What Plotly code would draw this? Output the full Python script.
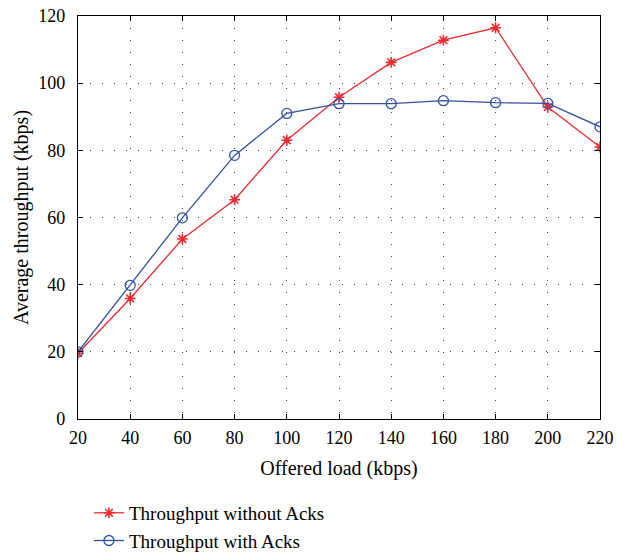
import plotly.graph_objects as go

offered_load = [20, 40, 60, 80, 100, 120, 140, 160, 180, 200, 220]
throughput_no_acks = [19.6, 35.9, 53.6, 65.3, 83.0, 95.8, 106.2, 112.8, 116.5, 92.9, 81.0]
throughput_acks = [20.0, 39.8, 59.9, 78.5, 91.0, 93.9, 93.9, 94.8, 94.2, 94.0, 87.0]
x_ticks = [20, 40, 60, 80, 100, 120, 140, 160, 180, 200, 220]
y_ticks = [0, 20, 40, 60, 80, 100, 120]

RED = "#ee2a2f"
BLUE = "#3450a6"
FONT = "Liberation Serif, DejaVu Serif, serif"

fig = go.Figure()
fig.add_trace(go.Scatter(
    x=offered_load, y=throughput_no_acks, mode="lines+markers",
    name="Throughput without Acks",
    line=dict(color=RED, width=1.3),
    marker=dict(symbol="asterisk-open", size=9, color=RED, line=dict(color=RED, width=1.6)),
))
fig.add_trace(go.Scatter(
    x=offered_load, y=throughput_acks, mode="lines+markers",
    name="Throughput with Acks",
    line=dict(color=BLUE, width=1.3),
    marker=dict(symbol="circle-open", size=10, color=BLUE, line=dict(color=BLUE, width=1.3)),
))

axis_common = dict(
    showline=True, linecolor="black", linewidth=1.2, mirror="ticks",
    ticks="inside", ticklen=5, tickcolor="black",
    showgrid=True, gridcolor="#444444", gridwidth=1, griddash="1px,11px",
    zeroline=False,
    tickfont=dict(family=FONT, size=18, color="black"),
)

fig.update_xaxes(
    range=[20, 220], tickvals=x_ticks, ticklabelstandoff=2,
    title=dict(text="Offered load (kbps)", font=dict(family=FONT, size=20, color="black"), standoff=14),
    **axis_common,
)
fig.update_yaxes(
    range=[0, 120], tickvals=y_ticks, ticklabelstandoff=8,
    title=dict(text="Average throughput (kbps)", font=dict(family=FONT, size=20, color="black"), standoff=4),
    **axis_common,
)

fig.update_layout(
    width=629, height=559,
    margin=dict(l=78, r=29, t=16, b=140, autoexpand=False),
    plot_bgcolor="white", paper_bgcolor="white",
    font=dict(family=FONT, size=19, color="black"),
    legend=dict(
        x=0.021, y=-0.186, xanchor="left", yanchor="top",
        bgcolor="rgba(0,0,0,0)", font=dict(family=FONT, size=19, color="black"),
        tracegroupgap=0, itemwidth=30,
    ),
)

fig.write_html("out.html")
